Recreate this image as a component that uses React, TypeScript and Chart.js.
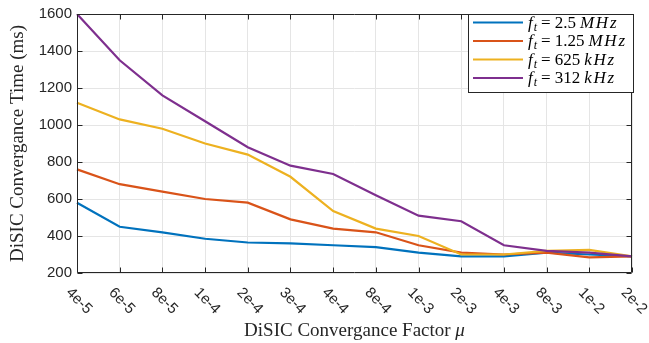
import React, { useEffect, useRef } from "react";
import { Chart, registerables } from "chart.js";

Chart.register(...registerables);

const categories = ["4e-5", "6e-5", "8e-5", "1e-4", "2e-4", "3e-4", "4e-4", "8e-4", "1e-3", "2e-3", "4e-3", "8e-3", "1e-2", "2e-2"];
const series2500kHz = [580, 450, 420, 385, 365, 360, 350, 340, 310, 290, 290, 310, 300, 290];
const series1250kHz = [760, 680, 640, 600, 580, 490, 440, 420, 350, 310, 300, 310, 285, 290];
const series625kHz = [1120, 1030, 980, 900, 840, 720, 535, 440, 400, 300, 300, 320, 325, 290];
const series312kHz = [1600, 1350, 1160, 1020, 880, 780, 735, 620, 510, 480, 350, 320, 310, 290];
const seriesLabels = ["f_t = 2.5 MHz", "f_t = 1.25 MHz", "f_t = 625 kHz", "f_t = 312 kHz"];
const seriesColors = ["#0072BD", "#D95319", "#EDB120", "#7E2F8E"];
const yMin = 200;
const yMax = 1600;
const yStep = 200;
const xTitleText = "DiSIC Convergance Factor ";
const xTitleSymbol = "\u03bc";
const yTitle = "DiSIC Convergance Time (ms)";

const AXIS_COLOR = "#262626";
const TICK_FONT = "15px 'Liberation Sans', Arial, sans-serif";
const SERIF = "'Liberation Serif', 'Times New Roman', serif";

const matlabPlugin = {
  id: "matlabDecor",
  afterDatasetsDraw(chart: any) {
    const { ctx, chartArea: a, scales } = chart;
    const x = scales.x;
    const y = scales.y;
    const L = Math.round(a.left) + 0.5;
    const R = Math.round(a.right) - 0.5;
    const T = Math.round(a.top) + 0.5;
    const B = Math.round(a.bottom) - 0.5;
    ctx.save();
    ctx.strokeStyle = AXIS_COLOR;
    ctx.lineWidth = 1;
    ctx.beginPath();
    ctx.rect(L, T, R - L, B - T);
    ctx.stroke();
    const tl = 5;
    ctx.beginPath();
    categories.forEach((_, i) => {
      const px = Math.round(x.getPixelForTick(i)) + 0.5;
      ctx.moveTo(px, B);
      ctx.lineTo(px, B - tl);
      ctx.moveTo(px, T);
      ctx.lineTo(px, T + tl);
    });
    for (let v = yMin; v <= yMax; v += yStep) {
      const py = Math.round(y.getPixelForValue(v)) + 0.5;
      ctx.moveTo(L, py);
      ctx.lineTo(L + tl, py);
      ctx.moveTo(R, py);
      ctx.lineTo(R - tl, py);
    }
    ctx.stroke();
    ctx.restore();
  },
  afterDraw(chart: any) {
    const { ctx, chartArea: a, scales } = chart;
    const x = scales.x;
    ctx.save();
    // rotated x tick labels
    ctx.fillStyle = AXIS_COLOR;
    ctx.font = TICK_FONT;
    ctx.textAlign = "center";
    ctx.textBaseline = "middle";
    categories.forEach((lab, i) => {
      const px = x.getPixelForTick(i);
      ctx.save();
      ctx.translate(px + 2, a.bottom + 28);
      ctx.rotate(Math.PI / 4);
      ctx.fillText(lab, 0, 0);
      ctx.restore();
    });
    // axis titles
    const upright = `19px ${SERIF}`;
    const italic = `italic 19px ${SERIF}`;
    ctx.fillStyle = AXIS_COLOR;
    ctx.textBaseline = "middle";
    ctx.textAlign = "left";
    ctx.font = upright;
    const w1 = ctx.measureText(xTitleText).width;
    ctx.font = italic;
    const w2 = ctx.measureText(xTitleSymbol).width;
    const sx = (a.left + a.right) / 2 - (w1 + w2) / 2;
    ctx.font = upright;
    ctx.fillText(xTitleText, sx, 331);
    ctx.font = italic;
    ctx.fillText(xTitleSymbol, sx + w1, 331);
    ctx.font = upright;
    ctx.textAlign = "center";
    ctx.save();
    ctx.translate(18, (a.top + a.bottom) / 2);
    ctx.rotate(-Math.PI / 2);
    ctx.fillText(yTitle, 0, 0);
    ctx.restore();

    // legend
    const bx = 468.5;
    const by = Math.round(a.top) + 0.5;
    const bw = 165;
    const bh = 78;
    ctx.fillStyle = "#ffffff";
    ctx.fillRect(bx, by, bw, bh);
    ctx.strokeStyle = AXIS_COLOR;
    ctx.lineWidth = 1;
    ctx.strokeRect(bx, by, bw, bh);
    seriesLabels.forEach((label, i) => {
      const cy = 22.5 + i * 18.5;
      ctx.strokeStyle = seriesColors[i];
      ctx.lineWidth = 2;
      ctx.beginPath();
      ctx.moveTo(473, cy);
      ctx.lineTo(523, cy);
      ctx.stroke();
      const m = label.match(/^(\w)_(\w) = ([\d.]+) (\w+)$/);
      if (!m) return;
      let tx = 528;
      ctx.fillStyle = "#000000";
      ctx.textAlign = "left";
      ctx.textBaseline = "alphabetic";
      const base = cy + 5;
      ctx.font = `italic 17px ${SERIF}`;
      ctx.fillText(m[1], tx, base);
      tx += ctx.measureText(m[1]).width + 1;
      ctx.font = `italic 12px ${SERIF}`;
      ctx.fillText(m[2], tx, base + 3);
      tx += ctx.measureText(m[2]).width + 4;
      ctx.font = `17px ${SERIF}`;
      ctx.fillText("=", tx, base);
      tx += ctx.measureText("=").width + 4;
      ctx.fillText(m[3], tx, base);
      tx += ctx.measureText(m[3]).width + 4;
      ctx.font = `italic 17px ${SERIF}`;
      for (const ch of m[4]) {
        ctx.fillText(ch, tx, base);
        tx += ctx.measureText(ch).width + 1.8;
      }
    });
    ctx.restore();
  },
};

export default function App() {
  const canvasRef = useRef<HTMLCanvasElement | null>(null);

  useEffect(() => {
    const canvas = canvasRef.current;
    if (!canvas) return;
    const allSeries = [series2500kHz, series1250kHz, series625kHz, series312kHz];
    const chart = new Chart(canvas, {
      type: "line",
      data: {
        labels: categories,
        datasets: allSeries.map((d, i) => ({
          label: seriesLabels[i],
          data: d,
          borderColor: seriesColors[i],
          backgroundColor: seriesColors[i],
          borderWidth: 2.2,
          pointRadius: 0,
          tension: 0,
          fill: false,
          order: allSeries.length - i,
        })),
      },
      options: {
        animation: false,
        responsive: false,
        devicePixelRatio: 1,
        layout: { padding: { left: 0, top: 11, right: 17, bottom: 0 } },
        plugins: {
          legend: { display: false },
          tooltip: { enabled: false },
        },
        scales: {
          x: {
            type: "category",
            offset: false,
            grid: { color: "#e5e5e5", lineWidth: 1, drawTicks: false },
            border: { display: false },
            ticks: { display: false },
            afterFit: (s: any) => {
              s.height = 70;
            },
          },
          y: {
            min: yMin,
            max: yMax,
            grid: { color: "#e5e5e5", lineWidth: 1, drawTicks: false },
            border: { display: false },
            ticks: {
              stepSize: yStep,
              padding: 5,
              color: AXIS_COLOR,
              font: { family: "'Liberation Sans', Arial, sans-serif", size: 15 },
              callback: (v: any) => String(v),
            },
            afterFit: (s: any) => {
              s.width = 77;
            },
          },
        },
      },
      plugins: [matlabPlugin],
    });
    return () => chart.destroy();
  }, []);

  return (
    <div style={{ position: "absolute", left: 0, top: 0, width: 649, height: 343, background: "#fff" }}>
      <canvas ref={canvasRef} width={649} height={343} style={{ display: "block", width: 649, height: 343 }} />
    </div>
  );
}
